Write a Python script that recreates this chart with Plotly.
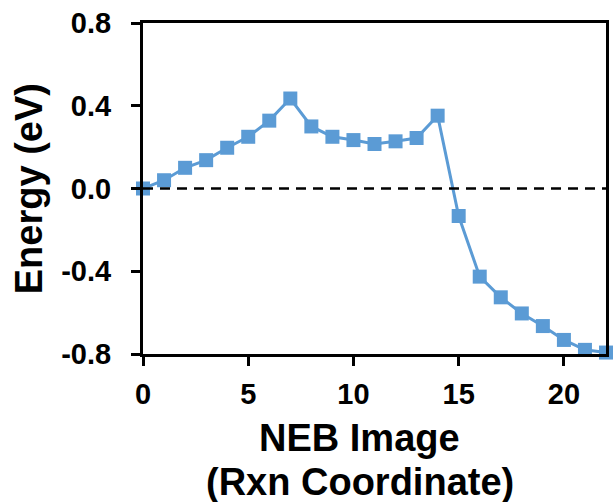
import plotly.graph_objects as go

neb_image = list(range(23))
energy_ev = [0.0, 0.04, 0.10, 0.137, 0.197, 0.25, 0.328, 0.435, 0.30, 0.25, 0.234,
             0.215, 0.228, 0.244, 0.352, -0.133, -0.426, -0.526, -0.604, -0.665,
             -0.732, -0.78, -0.793]
x_ticks = [0, 5, 10, 15, 20]
y_ticks = [-0.8, -0.4, 0.0, 0.4, 0.8]
y_tick_text = ["-0.8", "-0.4", "0.0", "0.4", "0.8"]

FONT = "Liberation Sans, Arial, sans-serif"
BLUE = "#5B9BD5"

fig = go.Figure()
fig.add_trace(go.Scatter(
    x=neb_image, y=energy_ev, mode="lines+markers",
    line=dict(color=BLUE, width=3),
    marker=dict(symbol="square", size=14, color=BLUE, line=dict(width=0)),
    cliponaxis=False, showlegend=False,
))
fig.add_hline(y=0, line=dict(color="black", width=2.5, dash="10px,7px"), layer="above")

axis_common = dict(
    showline=True, linecolor="black", linewidth=3, mirror=True,
    ticks="outside", ticklen=9, tickwidth=3, tickcolor="black",
    showgrid=False, zeroline=False,
    tickfont=dict(family=FONT, size=29, color="black", weight="bold"),
)
fig.update_xaxes(range=[0, 22], tickvals=x_ticks, ticklabelstandoff=3, **axis_common)
fig.update_yaxes(range=[-0.8, 0.8], tickvals=y_ticks, ticktext=y_tick_text,
                 ticklabelstandoff=14, **axis_common)

title_font = dict(family=FONT, size=38, color="black", weight="bold")
fig.add_annotation(text="NEB Image", xref="paper", yref="paper",
                   x=(361 - 143) / 466, y=(354 - 438) / 331, xanchor="center", yanchor="middle",
                   showarrow=False, font=title_font)
fig.add_annotation(text="(Rxn Coordinate)", xref="paper", yref="paper",
                   x=(361 - 143) / 466, y=(354 - 482) / 331, xanchor="center", yanchor="middle",
                   showarrow=False, font=title_font)
fig.add_annotation(text="Energy (eV)", xref="paper", yref="paper",
                   x=(28 - 143) / 466, y=0.5, xanchor="center", yanchor="middle", textangle=-90,
                   showarrow=False, font=title_font)

fig.update_layout(
    width=613, height=502,
    margin=dict(l=143, r=4, t=23, b=148),
    plot_bgcolor="white", paper_bgcolor="white",
)
fig.write_html("out.html")
